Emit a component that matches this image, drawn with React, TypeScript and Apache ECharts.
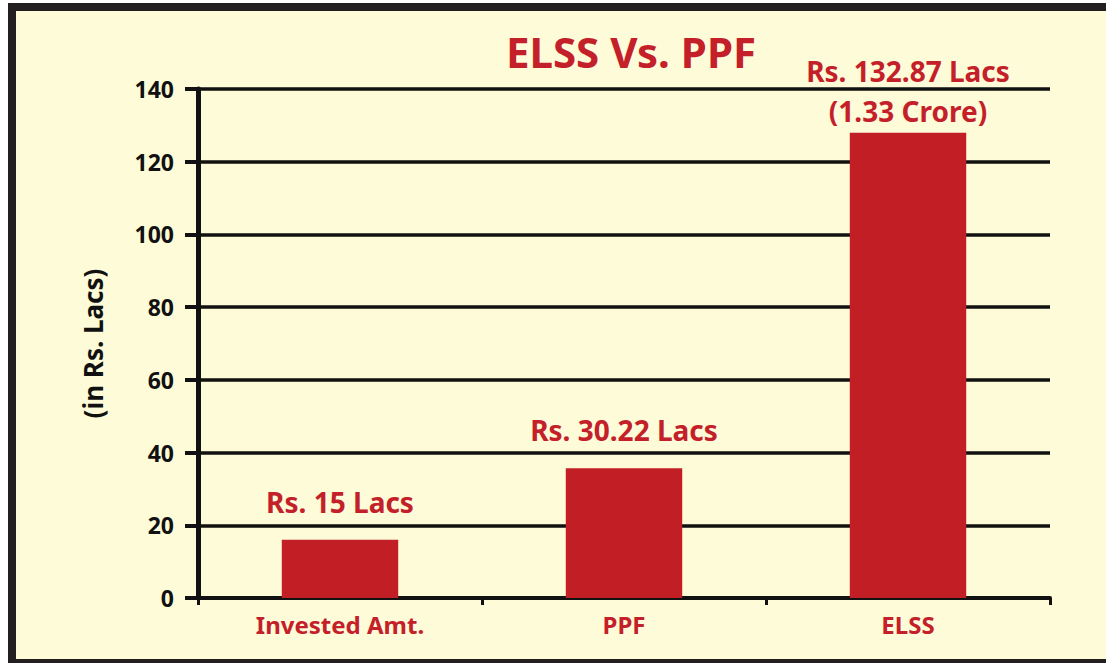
import React, { useEffect, useRef } from "react";
import * as echarts from "echarts";

const categories = ["Invested Amt.", "PPF", "ELSS"];
const barValues = [16, 35.7, 128];
const barLabels = ["Rs. 15 Lacs", "Rs. 30.22 Lacs", "Rs. 132.87 Lacs\n(1.33 Crore)"];
const yTicks = [0, 20, 40, 60, 80, 100, 120, 140];

const RED = "#C4202A";
const BAR = "#C21E25";
const INK = "#111111";
const FONT = "'Noto Sans', 'Open Sans', sans-serif";

export default function App() {
  const ref = useRef<HTMLDivElement>(null);
  useEffect(() => {
    if (!ref.current) return;
    const chart = echarts.init(ref.current, undefined, { renderer: "svg" });
    chart.setOption({
      animation: false,
      title: {
        text: "ELSS Vs. PPF",
        left: 626,
        top: 25,
        textAlign: "center",
        textStyle: { color: RED, fontFamily: FONT, fontWeight: "bold", fontSize: 42 },
      },
      grid: { left: 198, right: 56, top: 89, bottom: 65, containLabel: false },
      xAxis: {
        type: "category",
        data: categories,
        axisLine: { lineStyle: { color: INK, width: 4 } },
        axisTick: { show: true, length: 7, lineStyle: { color: INK, width: 3 } },
        axisLabel: {
          color: RED,
          fontFamily: FONT,
          fontWeight: "bold",
          fontSize: 24,
          margin: 14,
        },
      },
      yAxis: {
        type: "value",
        min: yTicks[0],
        max: yTicks[yTicks.length - 1],
        interval: 20,
        name: "(in Rs. Lacs)",
        nameLocation: "middle",
        nameRotate: 90,
        nameGap: 92,
        nameTextStyle: { color: INK, fontFamily: FONT, fontWeight: "bold", fontSize: 26 },
        axisLine: { show: true, lineStyle: { color: INK, width: 5 } },
        axisTick: { show: true, length: 13, lineStyle: { color: INK, width: 4 } },
        axisLabel: {
          color: INK,
          fontFamily: FONT,
          fontWeight: "bold",
          fontSize: 23,
          margin: 24,
        },
        splitLine: { show: true, lineStyle: { color: INK, width: 3.5 } },
      },
      series: [
        {
          type: "bar",
          data: barValues.map((v, i) =>
            i === barValues.length - 1 ? { value: v, label: { distance: 2 } } : v
          ),
          barWidth: "41%",
          itemStyle: { color: BAR },
          label: {
            show: true,
            position: "top",
            distance: 18,
            formatter: (p: any) => barLabels[p.dataIndex],
            color: RED,
            fontFamily: FONT,
            fontWeight: "bold",
            fontSize: 28,
            lineHeight: 40,
          },
        },
      ],
    });
    return () => chart.dispose();
  }, []);

  return (
    <div style={{ position: "fixed", left: 0, top: 0, width: 1106, height: 663, background: "#ffffff", overflow: "hidden" }}>
      <div
        style={{
          position: "absolute",
          left: 8,
          top: 3,
          width: 1200,
          height: 648,
          borderLeft: "8px solid #231F20",
          borderTop: "8px solid #231F20",
          borderBottom: "8px solid #231F20",
          background: "#FEFBD8",
        }}
      />
      <div ref={ref} style={{ position: "absolute", left: 0, top: 0, width: 1106, height: 663 }} />
    </div>
  );
}
